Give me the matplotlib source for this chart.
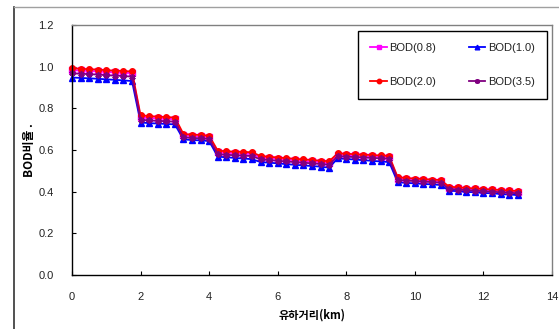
import matplotlib
matplotlib.use("Agg")
import matplotlib.pyplot as plt
from matplotlib.lines import Line2D

# Downstream distance (km)
distance_km = [
    0.00, 0.25, 0.50, 0.75, 1.00, 1.25, 1.50, 1.75,
    2.00, 2.25, 2.50, 2.75, 3.00,
    3.25, 3.50, 3.75, 4.00,
    4.25, 4.50, 4.75, 5.00, 5.25,
    5.50, 5.75, 6.00, 6.25, 6.50, 6.75, 7.00, 7.25, 7.50,
    7.75, 8.00, 8.25, 8.50, 8.75, 9.00, 9.25,
    9.50, 9.75, 10.00, 10.25, 10.50, 10.75,
    11.00, 11.25, 11.50, 11.75, 12.00, 12.25, 12.50, 12.75, 13.00,
]

bod_08 = [
    0.984, 0.982, 0.980, 0.978, 0.975, 0.973, 0.971, 0.969,
    0.757, 0.754, 0.752, 0.750, 0.748,
    0.670, 0.667, 0.665, 0.662,
    0.590, 0.587, 0.585, 0.583, 0.581,
    0.564, 0.561, 0.557, 0.554, 0.551, 0.548, 0.545, 0.542, 0.538,
    0.578, 0.576, 0.574, 0.572, 0.570, 0.568, 0.566,
    0.463, 0.460, 0.457, 0.455, 0.452, 0.450,
    0.419, 0.416, 0.413, 0.411, 0.408, 0.406, 0.403, 0.401, 0.398,
]

bod_10 = [
    0.948, 0.946, 0.944, 0.942, 0.939, 0.937, 0.934, 0.931,
    0.732, 0.729, 0.727, 0.725, 0.723,
    0.651, 0.648, 0.646, 0.643,
    0.568, 0.565, 0.562, 0.559, 0.556,
    0.542, 0.539, 0.536, 0.532, 0.529, 0.526, 0.523, 0.520, 0.515,
    0.560, 0.557, 0.554, 0.551, 0.548, 0.545, 0.542,
    0.445, 0.442, 0.440, 0.437, 0.435, 0.432,
    0.405, 0.402, 0.399, 0.397, 0.394, 0.392, 0.389, 0.386, 0.384,
]

bod_20 = [
    0.993, 0.990, 0.988, 0.986, 0.983, 0.981, 0.979, 0.977,
    0.766, 0.763, 0.760, 0.758, 0.756,
    0.677, 0.674, 0.672, 0.669,
    0.597, 0.594, 0.592, 0.591, 0.589,
    0.571, 0.568, 0.564, 0.561, 0.558, 0.555, 0.552, 0.549, 0.546,
    0.584, 0.582, 0.580, 0.578, 0.576, 0.574, 0.572,
    0.469, 0.466, 0.463, 0.461, 0.458, 0.456,
    0.424, 0.421, 0.418, 0.416, 0.413, 0.411, 0.408, 0.406, 0.403,
]

bod_35 = [
    0.968, 0.966, 0.964, 0.962, 0.959, 0.957, 0.955, 0.952,
    0.745, 0.742, 0.740, 0.738, 0.736,
    0.661, 0.658, 0.656, 0.653,
    0.580, 0.577, 0.575, 0.573, 0.571,
    0.555, 0.552, 0.548, 0.545, 0.542, 0.539, 0.536, 0.533, 0.529,
    0.570, 0.568, 0.566, 0.564, 0.562, 0.560, 0.558,
    0.456, 0.453, 0.451, 0.448, 0.446, 0.443,
    0.413, 0.410, 0.407, 0.405, 0.402, 0.400, 0.397, 0.395, 0.392,
]

series_labels = ["BOD(0.8)", "BOD(1.0)", "BOD(2.0)", "BOD(3.5)"]
x_ticks = [0, 2, 4, 6, 8, 10, 12, 14]
y_ticks = [0.0, 0.2, 0.4, 0.6, 0.8, 1.0, 1.2]

plt.rcParams["font.family"] = ["Liberation Sans", "Noto Sans CJK KR", "DejaVu Sans"]

fig = plt.figure(figsize=(5.59, 3.29), dpi=100)
fig.patch.set_facecolor("white")

# outer chart border
fig.add_artist(Line2D([14 / 559, 14 / 559], [0, 1 - 7 / 329], color="#333333",
                      lw=1.2, transform=fig.transFigure))
fig.add_artist(Line2D([14 / 559, 1], [1 - 7 / 329, 1 - 7 / 329], color="#a0a0a0",
                      lw=1.0, transform=fig.transFigure))

ax = fig.add_axes([72 / 559, 1 - 275 / 329, (552 - 72) / 559, (275 - 25) / 329])

styles = [
    dict(color="#ff00ff", marker="s", ms=3.8),
    dict(color="#0000ff", marker="^", ms=4.2),
    dict(color="#ff0000", marker="o", ms=4.0),
    dict(color="#800080", marker=(6, 2, 0), ms=4.5, mew=1.2),
]
data = [bod_08, bod_10, bod_20, bod_35]
handles = []
for vals, lab, st in zip(data, series_labels, styles):
    h, = ax.plot(distance_km, vals, lw=1.3, label=lab, clip_on=False, **st)
    handles.append(h)

ax.set_xlim(0, 14)
ax.set_ylim(0, 1.2)
ax.set_xticks(x_ticks)
ax.set_yticks(y_ticks)
ax.set_xticklabels([str(v) for v in x_ticks])
ax.set_yticklabels([f"{v:.1f}" for v in y_ticks])
ax.tick_params(direction="in", length=3, width=0.8, labelsize=8,
               labelcolor="#222222", pad=13)
ax.tick_params(axis="x", pad=12)

for side in ("top", "right"):
    ax.spines[side].set_color("#808080")
    ax.spines[side].set_linewidth(1.0)
for side in ("left", "bottom"):
    ax.spines[side].set_color("black")
    ax.spines[side].set_linewidth(1.0)

ax.set_xlabel("유하거리(km)", fontsize=8, fontweight="bold",
              family=["Noto Sans CJK KR", "DejaVu Sans"], labelpad=5)
ax.set_ylabel("BOD비율 .", fontsize=8.5, fontweight="bold",
              family=["Noto Sans CJK KR", "DejaVu Sans"], labelpad=2)

order = [0, 2, 1, 3]
leg = fig.legend([handles[i] for i in order], [series_labels[i] for i in order],
                 ncol=2, loc="upper left",
                 bbox_to_anchor=(358 / 559, 1 - 31 / 329), borderaxespad=0,
                 fontsize=8, frameon=True, fancybox=False, framealpha=1,
                 edgecolor="black", handlelength=1.5, handletextpad=0.2,
                 columnspacing=2.95, labelspacing=2.15, borderpad=1.1,
                 markerscale=0.8)
leg.get_frame().set_linewidth(1.0)
for t in leg.get_texts():
    t.set_color("#222222")

fig.savefig("out.png", dpi=100, facecolor="white")
